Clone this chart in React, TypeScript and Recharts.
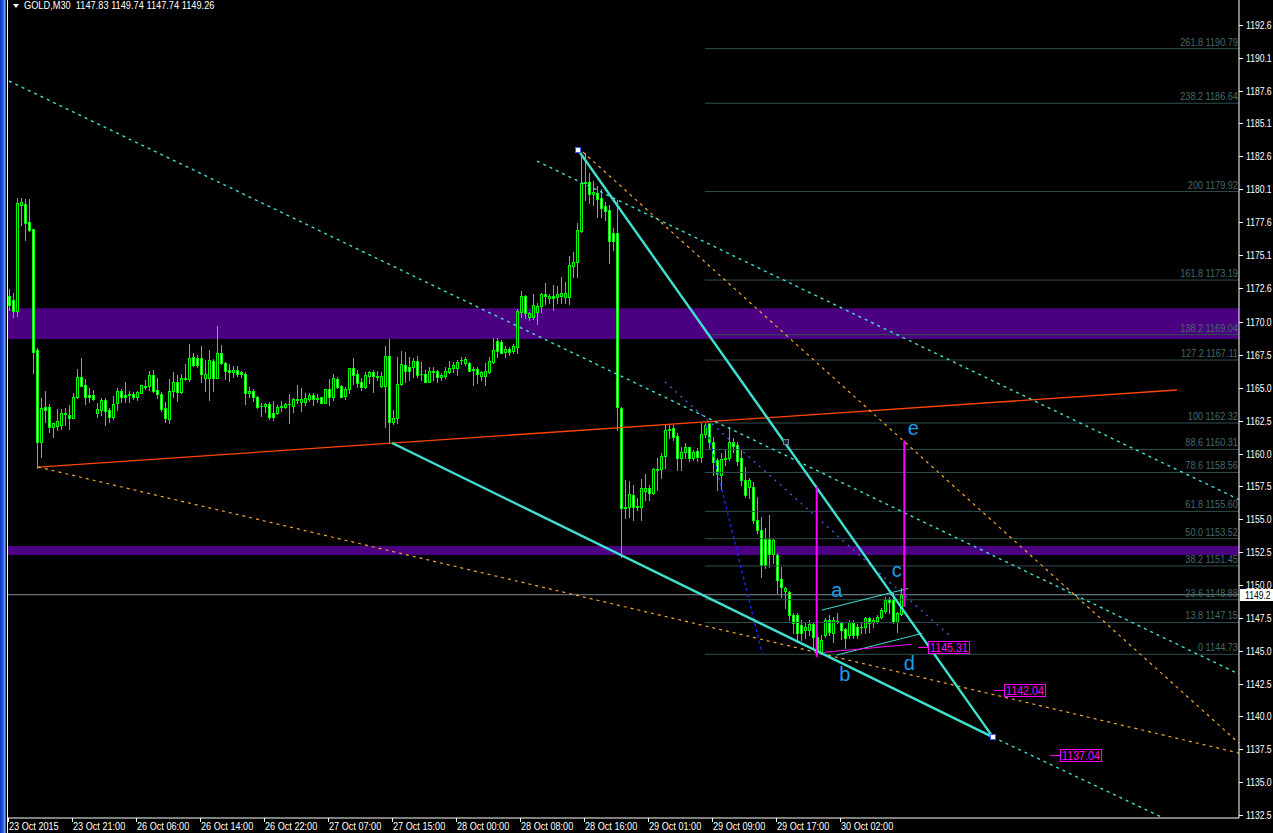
import { Bar, ComposedChart, ReferenceArea, ReferenceLine, Scatter, XAxis, YAxis } from "recharts";

// M30 bars, index 0 = 23 Oct 2015 13:00
const opens = [
	1172.0, 1171.67, 1170.86, 1178.9, 1179.0, 1177.6, 1177.05, 1167.87, 1160.9, 1163.5,
	1163.5, 1162.0, 1162.1, 1162.2, 1163.0, 1162.95, 1162.7, 1164.27, 1165.8, 1165.2,
	1164.45, 1164.45, 1163.05, 1163.31, 1164.07, 1163.31, 1162.8, 1163.81, 1164.75, 1164.45,
	1164.42, 1164.52, 1164.27, 1164.63, 1165.08, 1165.16, 1165.97, 1164.83, 1164.5, 1163.43,
	1162.65, 1164.75, 1165.44, 1164.65, 1165.64, 1165.64, 1167.34, 1167.26, 1167.26, 1165.77,
	1165.77, 1167.03, 1165.77, 1167.64, 1166.86, 1166.35, 1166.22, 1166.35, 1166.2, 1166.02,
	1164.57, 1164.75, 1164.27, 1163.64, 1163.61, 1163.76, 1163.05, 1163.1, 1163.51, 1163.51,
	1163.74, 1163.64, 1164.12, 1163.94, 1163.94, 1164.14, 1164.45, 1164.14, 1164.27, 1163.81,
	1164.88, 1164.32, 1165.66, 1165.13, 1164.37, 1164.9, 1166.47, 1166.04, 1165.41, 1165.08,
	1165.92, 1166.17, 1165.89, 1165.16, 1165.16, 1167.41, 1162.42, 1162.67, 1165.28, 1166.72,
	1166.6, 1166.55, 1167.05, 1166.04, 1166.04, 1165.46, 1166.27, 1166.27, 1165.84, 1165.89,
	1166.22, 1166.47, 1166.47, 1167.1, 1166.85, 1166.9, 1166.34, 1166.39, 1165.89, 1165.89,
	1166.22, 1166.98, 1168.55, 1168.5, 1167.74, 1167.94, 1167.81, 1168.12, 1170.78, 1171.97,
	1170.35, 1170.35, 1170.78, 1171.21, 1172.12, 1171.79, 1171.97, 1171.92, 1171.97, 1171.92,
	1171.92, 1174.26, 1174.59, 1176.94, 1180.67, 1180.67, 1179.73, 1179.78, 1179.4, 1178.82,
	1178.52, 1176.74, 1176.74, 1163.43, 1155.95, 1155.95, 1156.84, 1156.0, 1155.95, 1157.17,
	1157.35, 1157.02, 1158.76, 1158.79, 1159.8, 1161.78, 1161.91, 1161.33, 1159.63, 1160.14,
	1160.46, 1159.63, 1160.21, 1159.75, 1161.48, 1162.29, 1160.9, 1159.5, 1158.36, 1159.6,
	1159.63, 1160.9, 1160.64, 1159.63, 1157.99, 1157.43, 1157.43, 1154.94, 1154.18, 1153.47,
	1153.47, 1152.36, 1152.28, 1150.43, 1149.57, 1149.49, 1147.72, 1147.72, 1146.96, 1146.58,
	1146.58, 1147.03, 1146.07, 1144.93, 1146.2, 1147.34, 1146.37, 1147.26, 1147.14, 1146.63,
	1146.2, 1147.13, 1146.83, 1146.83, 1146.83, 1147.46, 1147.21, 1147.29, 1147.59, 1148.05,
	1148.93, 1148.93, 1147.21, 1147.83,
];
const highs = [
	1172.5, 1172.18, 1179.4, 1179.4, 1179.35, 1179.35, 1177.1, 1168.0, 1164.2, 1164.75,
	1163.8, 1162.35, 1163.4, 1163.4, 1163.46, 1163.7, 1164.6, 1166.4, 1167.3, 1165.65,
	1164.95, 1164.83, 1163.81, 1164.19, 1164.19, 1163.48, 1164.37, 1164.96, 1164.88, 1165.46,
	1164.78, 1164.7, 1164.78, 1165.23, 1165.59, 1166.3, 1166.35, 1165.74, 1164.65, 1163.94,
	1165.64, 1166.22, 1165.97, 1166.02, 1166.81, 1168.33, 1167.67, 1167.49, 1168.17, 1167.11,
	1167.87, 1167.16, 1169.7, 1168.25, 1166.93, 1166.81, 1166.65, 1166.65, 1166.27, 1166.17,
	1165.08, 1164.91, 1164.37, 1163.81, 1163.86, 1163.94, 1163.99, 1163.68, 1163.99, 1163.86,
	1164.52, 1164.24, 1165.21, 1164.95, 1164.57, 1164.62, 1164.57, 1164.52, 1164.32, 1164.88,
	1165.64, 1166.04, 1165.79, 1165.18, 1165.08, 1166.47, 1167.23, 1166.35, 1165.71, 1166.22,
	1166.3, 1166.35, 1166.3, 1166.22, 1168.17, 1168.71, 1163.3, 1167.31, 1167.81, 1167.74,
	1167.36, 1167.23, 1167.41, 1166.98, 1166.34, 1166.55, 1166.6, 1166.34, 1166.09, 1166.55,
	1167.05, 1166.98, 1167.1, 1167.31, 1167.31, 1166.98, 1166.55, 1166.6, 1166.29, 1166.9,
	1167.31, 1168.75, 1168.75, 1168.63, 1168.17, 1168.07, 1168.32, 1170.96, 1172.35, 1172.05,
	1170.78, 1172.12, 1171.47, 1172.18, 1172.99, 1172.12, 1172.81, 1172.73, 1173.44, 1173.06,
	1175.02, 1175.35, 1177.5, 1182.78, 1182.88, 1181.3, 1180.75, 1180.34, 1180.09, 1179.15,
	1178.9, 1177.12, 1179.28, 1163.56, 1157.98, 1157.93, 1157.6, 1156.59, 1158.03, 1158.41,
	1157.6, 1158.87, 1159.63, 1160.01, 1162.16, 1162.16, 1162.16, 1161.53, 1160.52, 1160.77,
	1160.52, 1160.26, 1160.39, 1162.32, 1162.32, 1162.3, 1161.28, 1159.63, 1160.01, 1160.26,
	1162.04, 1161.15, 1160.9, 1160.27, 1159.0, 1158.11, 1157.86, 1156.72, 1155.2, 1154.31,
	1155.32, 1153.55, 1152.41, 1151.39, 1149.87, 1149.57, 1147.84, 1147.84, 1147.34, 1147.13,
	1147.34, 1147.21, 1146.2, 1146.2, 1147.46, 1147.72, 1147.59, 1147.84, 1147.21, 1146.71,
	1147.34, 1147.34, 1147.03, 1147.21, 1147.59, 1147.59, 1147.46, 1147.72, 1148.22, 1149.06,
	1149.11, 1149.36, 1147.97, 1149.74,
];
const lows = [
	1170.9, 1170.4, 1170.45, 1177.4, 1176.2, 1176.9, 1166.14, 1158.87, 1159.75, 1162.4,
	1161.65, 1161.27, 1161.8, 1161.9, 1162.2, 1161.9, 1162.7, 1164.2, 1165.1, 1163.8,
	1163.94, 1164.07, 1162.8, 1162.93, 1162.17, 1162.42, 1162.6, 1163.31, 1163.94, 1163.94,
	1163.94, 1164.12, 1164.07, 1164.57, 1164.88, 1164.83, 1164.7, 1164.19, 1163.23, 1162.42,
	1162.34, 1164.32, 1164.02, 1164.57, 1165.59, 1165.49, 1166.65, 1166.6, 1165.41, 1164.75,
	1164.07, 1164.75, 1165.77, 1166.78, 1165.64, 1165.51, 1165.84, 1165.89, 1165.84, 1163.76,
	1164.32, 1164.0, 1163.48, 1162.87, 1163.18, 1162.59, 1162.54, 1163.0, 1163.25, 1163.43,
	1162.34, 1163.18, 1163.81, 1163.25, 1163.68, 1163.99, 1163.68, 1163.94, 1163.81, 1163.81,
	1163.68, 1164.07, 1164.95, 1164.27, 1164.14, 1164.62, 1165.28, 1165.08, 1164.83, 1164.95,
	1165.33, 1164.7, 1165.59, 1165.08, 1162.0, 1160.77, 1162.24, 1162.29, 1165.2, 1165.46,
	1165.58, 1165.84, 1165.79, 1165.58, 1165.46, 1165.46, 1165.58, 1165.46, 1165.58, 1165.71,
	1166.09, 1166.22, 1165.96, 1166.8, 1166.72, 1166.29, 1165.2, 1165.33, 1165.58, 1165.2,
	1166.09, 1166.85, 1167.36, 1167.61, 1167.31, 1167.49, 1167.61, 1167.66, 1170.35, 1170.27,
	1170.15, 1170.2, 1169.84, 1170.78, 1171.36, 1171.47, 1170.91, 1171.41, 1171.41, 1171.41,
	1171.37, 1173.45, 1173.45, 1176.87, 1179.28, 1179.02, 1178.9, 1178.01, 1178.01, 1177.76,
	1174.46, 1175.47, 1161.78, 1152.15, 1155.06, 1155.19, 1154.94, 1155.7, 1154.94, 1156.46,
	1156.46, 1156.91, 1157.22, 1158.11, 1158.87, 1161.15, 1161.02, 1158.74, 1158.74, 1159.63,
	1159.45, 1159.5, 1159.45, 1159.38, 1161.28, 1160.39, 1158.36, 1157.22, 1157.27, 1159.12,
	1159.5, 1160.14, 1159.12, 1157.6, 1156.72, 1156.59, 1154.69, 1153.93, 1150.63, 1151.27,
	1151.39, 1151.65, 1149.36, 1149.11, 1148.22, 1147.34, 1146.32, 1145.69, 1145.82, 1145.94,
	1146.2, 1145.18, 1144.8, 1144.73, 1146.07, 1146.2, 1145.69, 1147.08, 1145.87, 1145.18,
	1145.94, 1145.94, 1145.94, 1146.32, 1146.32, 1146.45, 1146.83, 1147.08, 1147.46, 1147.84,
	1147.84, 1147.13, 1146.45, 1147.74,
];
const closes = [
	1171.3, 1170.86, 1179.07, 1179.1, 1177.55, 1177.0, 1167.74, 1160.9, 1163.43, 1163.3,
	1162.0, 1162.3, 1162.5, 1163.05, 1163.1, 1162.7, 1164.27, 1165.8, 1165.15, 1164.3,
	1164.32, 1164.12, 1163.36, 1164.07, 1163.26, 1162.75, 1163.74, 1164.75, 1164.32, 1164.32,
	1164.52, 1164.27, 1164.68, 1165.18, 1165.16, 1165.97, 1164.78, 1164.5, 1163.36, 1162.72,
	1164.75, 1165.44, 1164.65, 1165.72, 1165.72, 1167.24, 1166.73, 1166.75, 1166.02, 1166.02,
	1167.11, 1165.77, 1167.64, 1166.86, 1166.3, 1166.22, 1166.35, 1166.05, 1166.02, 1164.57,
	1164.75, 1164.27, 1163.56, 1163.59, 1163.76, 1162.8, 1162.75, 1163.51, 1163.61, 1163.76,
	1163.76, 1164.14, 1164.1, 1164.14, 1164.24, 1164.45, 1164.14, 1164.24, 1163.81, 1164.88,
	1164.32, 1165.71, 1165.08, 1164.32, 1164.9, 1166.47, 1165.97, 1165.38, 1165.08, 1165.97,
	1166.17, 1165.92, 1165.84, 1165.89, 1167.41, 1162.42, 1162.72, 1165.28, 1166.8, 1166.29,
	1166.29, 1167.05, 1165.96, 1166.04, 1165.46, 1166.27, 1166.22, 1165.79, 1165.94, 1166.27,
	1166.52, 1166.72, 1166.98, 1167.1, 1167.16, 1166.29, 1166.44, 1166.04, 1166.19, 1166.27,
	1167.05, 1167.87, 1167.81, 1167.66, 1167.94, 1167.74, 1168.17, 1170.83, 1171.97, 1170.65,
	1170.7, 1171.29, 1171.21, 1172.12, 1171.97, 1171.97, 1171.79, 1172.12, 1172.23, 1172.18,
	1174.33, 1174.59, 1176.99, 1180.59, 1180.54, 1179.73, 1179.91, 1179.33, 1178.64, 1178.47,
	1176.18, 1176.18, 1163.51, 1155.82, 1155.82, 1156.91, 1155.95, 1155.95, 1157.35, 1157.35,
	1157.02, 1158.79, 1158.79, 1159.8, 1161.78, 1161.83, 1161.28, 1159.63, 1160.14, 1160.46,
	1159.63, 1160.14, 1159.75, 1161.48, 1162.2, 1160.9, 1159.38, 1158.41, 1159.55, 1159.63,
	1160.9, 1160.57, 1159.45, 1157.99, 1156.84, 1157.99, 1154.94, 1154.18, 1151.52, 1151.52,
	1152.36, 1153.42, 1150.38, 1149.82, 1149.8, 1147.72, 1147.08, 1146.32, 1146.37, 1146.83,
	1147.03, 1146.07, 1145.06, 1145.82, 1147.34, 1146.45, 1147.34, 1147.21, 1146.58, 1145.94,
	1147.21, 1146.2, 1146.2, 1146.83, 1147.46, 1147.13, 1147.34, 1147.59, 1148.1, 1148.86,
	1148.73, 1147.21, 1147.84, 1149.26,
];

const timeTickBars = [0, 16, 32, 48, 64, 80, 96, 112, 128, 144, 160, 176, 192, 208];
const timeTickLabels = [
	"23 Oct 2015", "23 Oct 21:00", "26 Oct 06:00", "26 Oct 14:00", "26 Oct 22:00", "27 Oct 07:00", "27 Oct 15:00",
	"28 Oct 00:00", "28 Oct 08:00", "28 Oct 16:00", "29 Oct 01:00", "29 Oct 09:00", "29 Oct 17:00", "30 Oct 02:00",
];

const priceTicks = [
	1192.6, 1190.1, 1187.6, 1185.1, 1182.6, 1180.1, 1177.6, 1175.1, 1172.6, 1170.0, 1167.5, 1165.0, 1162.5,
	1160.0, 1157.5, 1155.0, 1152.5, 1150.0, 1147.5, 1145.0, 1142.5, 1140.0, 1137.5, 1135.0, 1132.5,
];
const lastPrice = 1149.26;
const lastPriceText = "1149.2";
const headerText = "GOLD,M30  1147.83 1149.74 1147.74 1149.26";

const fibLevels = ["261.8", "238.2", "200", "161.8", "138.2", "127.2", "100", "88.6", "78.6", "61.8", "50.0", "38.2", "23.6", "13.8", "0"];
const fibPrices = [1190.79, 1186.64, 1179.92, 1173.19, 1169.04, 1167.11, 1162.32, 1160.31, 1158.56, 1155.6, 1153.52, 1151.45, 1148.88, 1147.15, 1144.73];
const fibStartBar = 173.9;
const lastBar = 307.4;

// zones [low, high]
const zones = [
	[1168.71, 1171.04],
	[1152.28, 1152.96],
];

// segments: [bar1, price1, bar2, price2]
const cyanDotted = [
	[-0.08, 1188.33, 307.4, 1143.23],
	[131.9, 1182.24, 307.4, 1156.5],
	[245.9, 1138.43, 288.4, 1132.3],
];
const orangeDotted = [
	[7.2, 1158.97, 307.4, 1137.22],
	[143.4, 1182.93, 307.4, 1137.98],
];
const redTrend = [[7.2, 1158.97, 291.9, 1164.83]];
const cyanSolid = [
	[95.7, 1160.8, 245.9, 1138.43],
	[142.2, 1183.08, 245.9, 1138.43],
];
const cyanThin = [
	[203.1, 1148.09, 224.75, 1149.74],
	[206.85, 1144.67, 228.2, 1146.32],
];
const blueDotted = [[174.2, 1162.16, 188.2, 1144.82]];
const slateDotted = [[163.9, 1165.44, 235.2, 1146.12]];
const magentaBars = [
	[201.85, 1157.45, 201.85, 1144.52],
	[223.75, 1160.97, 223.75, 1148.35],
];
const magentaThin = [[203.5, 1144.88, 225.6, 1145.49]];

const waveLetters = ["a", "b", "c", "d", "e"];
const waveBars = [206.9, 208.9, 221.85, 225.0, 226.0];
const wavePrices = [1149.11, 1142.69, 1150.63, 1143.53, 1161.4];

const priceTagBars = [227.2, 246.2, 260.2];
const priceTagValues = [1145.31, 1142.04, 1137.04];

const anchorBars = [142.2, 245.9, 194.1];
const anchorPrices = [1183.08, 1138.43, 1160.89];

const rows = opens.map((o, i) => ({ i, o, h: highs[i], l: lows[i], c: closes[i], range: [lows[i], highs[i]] }));
const fibRows = fibPrices.map((p, j) => ({ i: lastBar, p, t: `${fibLevels[j]} ${p.toFixed(2)}` }));
const waveRows = waveLetters.map((t, j) => ({ i: waveBars[j], p: wavePrices[j], t }));
const tagRows = priceTagValues.map((p, j) => ({ i: priceTagBars[j], p, t: p.toFixed(2) }));
const anchorRows = anchorBars.map((i, j) => ({ i, p: anchorPrices[j], dim: j === 2 }));

const SANS = "'Liberation Sans', Arial, sans-serif";
const GREEN = "#00ff00";

// MT4's bitmap font is tall and narrow: squeeze Liberation Sans horizontally
function Narrow(props: any) {
	const { x, y, sx, anchor, fill, size, children } = props;
	return (
		<text
			transform={`translate(${x},${y}) scale(${sx},1)`}
			textAnchor={anchor || "start"}
			fill={fill}
			fontSize={size || 11}
			fontFamily={SANS}
		>
			{children}
		</text>
	);
}

function Candle(props: any) {
	const { x, y, width, height, payload } = props;
	if (x == null || y == null || !payload) return null;
	const top = Math.min(y, y + height);
	const span = Math.abs(height);
	const hi = payload.h;
	const lo = payload.l;
	const py = (v: number) => (hi === lo ? top : top + ((hi - v) / (hi - lo)) * span);
	const cx = Math.round(x + width / 2);
	const yo = py(payload.o);
	const yc = py(payload.c);
	const bTop = Math.round(Math.min(yo, yc));
	const bBot = Math.round(Math.max(yo, yc));
	const bear = payload.c < payload.o;
	return (
		<g shapeRendering="crispEdges">
			<line x1={cx + 0.5} x2={cx + 0.5} y1={Math.round(top)} y2={Math.round(top + span) + 1} stroke={GREEN} />
			{bBot - bTop < 1 ? (
				<line x1={cx - 1} x2={cx + 2} y1={bTop + 0.5} y2={bTop + 0.5} stroke={GREEN} />
			) : (
				<rect x={cx - 0.5} y={bTop + 0.5} width={2} height={bBot - bTop} fill={bear ? "#ffffff" : "#000000"} stroke={GREEN} />
			)}
		</g>
	);
}

function TimeTick(props: any) {
	const { x, y, payload } = props;
	const idx = timeTickBars.indexOf(payload.value);
	const px = Math.round(x) - 1;
	return (
		<g>
			<line x1={px + 0.5} x2={px + 0.5} y1={y} y2={y + 4} stroke="#ffffff" />
			<Narrow x={px + 1} y={y + 12} sx={0.83} fill="#ffffff">
				{timeTickLabels[idx]}
			</Narrow>
		</g>
	);
}

function PriceTick(props: any) {
	const { x, y, payload } = props;
	if (payload.value === lastPrice) {
		return (
			<g>
				<rect x={x + 1} y={Math.round(y) - 6} width={34} height={12} fill="#ffffff" />
				<Narrow x={x + 6} y={Math.round(y) + 4} sx={0.78} fill="#000000">
					{lastPriceText}
				</Narrow>
			</g>
		);
	}
	const py = Math.round(y) + 0.5;
	return (
		<g>
			<line x1={x} x2={x + 4} y1={py} y2={py} stroke="#ffffff" />
			<Narrow x={x + 7} y={Math.round(y) + 4} sx={0.78} fill="#ffffff">
				{payload.value.toFixed(1)}
			</Narrow>
		</g>
	);
}

function segment(s: number[]) {
	return [
		{ x: s[0], y: s[1] },
		{ x: s[2], y: s[3] },
	];
}

export default function App() {
	return (
		<div style={{ position: "fixed", left: 0, top: 0, width: 1273, height: 833, background: "#000", overflow: "hidden" }}>
			<div
				style={{
					position: "absolute",
					left: 0,
					top: 0,
					width: 6,
					height: 833,
					background: "linear-gradient(to right, #0b2fb8, #2a64e8 55%, #5f9bff 75%, #1846c8)",
				}}
			/>
			<div style={{ position: "absolute", left: 7, top: 0, width: 1, height: 833, background: "#fff" }} />
			<div style={{ position: "absolute", left: 0, top: 0 }}>
				<ComposedChart width={1273} height={833} data={rows} margin={{ top: 0, right: 0, bottom: 0, left: 8 }}>
					<XAxis
						dataKey="i"
						type="number"
						domain={[-0.325, 307.425]}
						ticks={timeTickBars}
						interval={0}
						height={15}
						tickSize={0}
						tickMargin={0}
						axisLine={{ stroke: "#ffffff" }}
						tickLine={false}
						tick={TimeTick}
					/>
					<YAxis
						orientation="right"
						type="number"
						domain={[1132.28, 1194.49]}
						ticks={[...priceTicks, lastPrice]}
						interval={0}
						width={34}
						tickSize={0}
						tickMargin={0}
						axisLine={{ stroke: "#ffffff" }}
						tickLine={false}
						tick={PriceTick}
					/>
					{zones.map((z, j) => (
						<ReferenceArea key={`z${j}`} y1={z[0]} y2={z[1]} fill="#4b0082" fillOpacity={1} stroke="none" />
					))}
					<Bar dataKey="range" barSize={3} shape={Candle} isAnimationActive={false} />
					{fibPrices.map((p, j) => (
						<ReferenceLine key={`f${j}`} segment={segment([fibStartBar, p, lastBar, p])} stroke="#2f4f4f" />
					))}
					<ReferenceLine y={lastPrice} stroke="#7d8c99" />
					{redTrend.map((s, j) => (
						<ReferenceLine key={`r${j}`} segment={segment(s)} stroke="#ff4500" strokeWidth={1.3} />
					))}
					{orangeDotted.map((s, j) => (
						<ReferenceLine key={`o${j}`} segment={segment(s)} stroke="#f0a830" strokeWidth={1.2} strokeDasharray="3 4" />
					))}
					{cyanDotted.map((s, j) => (
						<ReferenceLine key={`cd${j}`} segment={segment(s)} stroke="#40e0d0" strokeWidth={1.4} strokeDasharray="3 4" />
					))}
					{slateDotted.map((s, j) => (
						<ReferenceLine key={`sd${j}`} segment={segment(s)} stroke="#5068e8" strokeWidth={1.2} strokeDasharray="2 5" />
					))}
					{blueDotted.map((s, j) => (
						<ReferenceLine key={`bd${j}`} segment={segment(s)} stroke="#1428ff" strokeWidth={1.4} strokeDasharray="3 3" />
					))}
					{cyanSolid.map((s, j) => (
						<ReferenceLine key={`cs${j}`} segment={segment(s)} stroke="#40e0d0" strokeWidth={2.4} />
					))}
					{cyanThin.map((s, j) => (
						<ReferenceLine key={`ct${j}`} segment={segment(s)} stroke="#40e0d0" />
					))}
					{magentaThin.map((s, j) => (
						<ReferenceLine key={`mt${j}`} segment={segment(s)} stroke="#ff00ff" />
					))}
					{magentaBars.map((s, j) => (
						<ReferenceLine key={`mb${j}`} segment={segment(s)} stroke="#ff00ff" strokeWidth={2} />
					))}
					<Scatter
						data={fibRows}
						dataKey="p"
						isAnimationActive={false}
						shape={(p: any) => (
							<Narrow x={p.cx - 1} y={p.cy - 3} sx={0.83} anchor="end" fill="#466a6a">
								{p.payload.t}
							</Narrow>
						)}
					/>
					<Scatter
						data={waveRows}
						dataKey="p"
						isAnimationActive={false}
						shape={(p: any) => (
							<text x={p.cx} y={p.cy} textAnchor="middle" fill="#1e9be8" fontSize={20} fontFamily={SANS}>
								{p.payload.t}
							</text>
						)}
					/>
					<Scatter
						data={tagRows}
						dataKey="p"
						isAnimationActive={false}
						shape={(p: any) => (
							<g>
								<line x1={p.cx} x2={p.cx + 10} y1={Math.round(p.cy) + 0.5} y2={Math.round(p.cy) + 0.5} stroke="#ff00ff" />
								<rect x={p.cx + 10.5} y={Math.round(p.cy) - 5.5} width={41} height={12} fill="#000" stroke="#ff00ff" />
								<Narrow x={p.cx + 12} y={Math.round(p.cy) + 5} sx={0.82} size={13} fill="#ff00ff">
									{p.payload.t}
								</Narrow>
							</g>
						)}
					/>
					<Scatter
						data={anchorRows}
						dataKey="p"
						isAnimationActive={false}
						shape={(p: any) => (
							<rect
								x={Math.round(p.cx) - 2.5}
								y={Math.round(p.cy) - 2.5}
								width={5}
								height={5}
								fill={p.payload.dim ? "#202830" : "#ffffff"}
								stroke={p.payload.dim ? "#6f7fa0" : "#3c5cff"}
							/>
						)}
					/>
				</ComposedChart>
			</div>
			<div
				style={{
					position: "absolute",
					left: 13,
					top: 4,
					width: 0,
					height: 0,
					borderLeft: "3px solid transparent",
					borderRight: "3px solid transparent",
					borderTop: "4px solid #fff",
				}}
			/>
			<div
				style={{
					position: "absolute",
					left: 24,
					top: -2,
					color: "#fff",
					fontSize: 11,
					fontFamily: SANS,
					whiteSpace: "pre",
					lineHeight: "14px",
					transform: "scaleX(0.84)",
					transformOrigin: "left top",
				}}
			>
				{headerText}
			</div>
		</div>
	);
}
